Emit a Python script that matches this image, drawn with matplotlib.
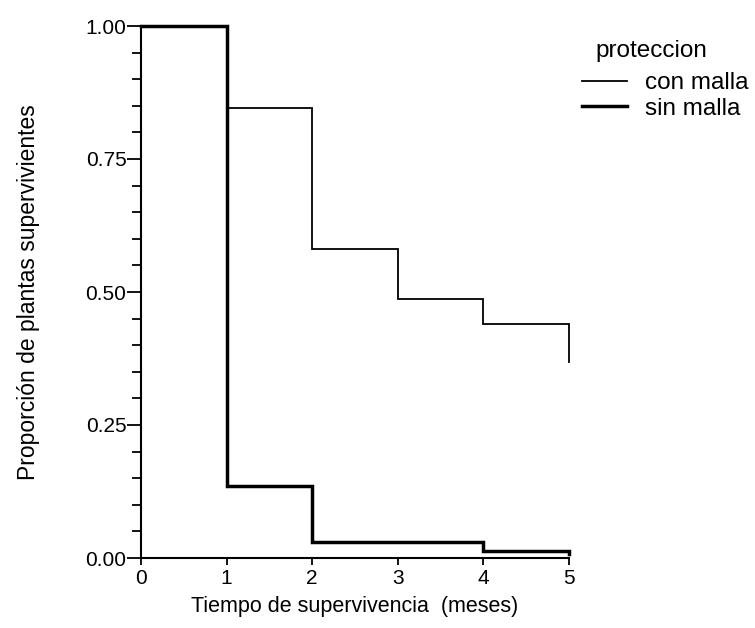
import matplotlib
matplotlib.use("Agg")
import matplotlib.pyplot as plt
from matplotlib.ticker import MultipleLocator, FormatStrFormatter

plt.rcParams['font.family'] = ['Liberation Sans', 'DejaVu Sans']

# Kaplan-Meier step data
tiempo_con = [0, 1, 2, 3, 4, 5]
surv_con = [1.00, 0.846, 0.581, 0.487, 0.440, 0.368]
tiempo_sin = [0, 1, 2, 4, 5]
surv_sin = [1.00, 0.136, 0.031, 0.013, 0.008]

xticks = [0, 1, 2, 3, 4, 5]
yticks = [0.00, 0.25, 0.50, 0.75, 1.00]

W, H = 755, 628
fig = plt.figure(figsize=(W/100, H/100), dpi=100)
ax = fig.add_axes([141/W, 1-558/H, (569-141)/W, (558-26)/H])

def km_xy(t, s):
    xs, ys = [t[0]], [s[0]]
    for i in range(1, len(t)):
        xs += [t[i], t[i]]
        ys += [s[i-1], s[i]]
    return xs, ys

xs, ys = km_xy(tiempo_con, surv_con)
ax.plot(xs, ys, color='black', lw=1.3, clip_on=False, label='con malla',
        solid_joinstyle='miter')
xs, ys = km_xy(tiempo_sin, surv_sin)
ax.plot(xs, ys, color='black', lw=2.5, clip_on=False, label='sin malla',
        solid_joinstyle='miter')

ax.set_xlim(0, 5)
ax.set_ylim(0, 1)
ax.set_xticks(xticks)
ax.set_yticks(yticks)
ax.yaxis.set_major_formatter(FormatStrFormatter('%.2f'))
ax.yaxis.set_minor_locator(MultipleLocator(0.05))

for s in ['top', 'right']:
    ax.spines[s].set_visible(False)
for s in ['left', 'bottom']:
    ax.spines[s].set_linewidth(1.5)

ax.tick_params(axis='y', which='major', direction='out', length=10, width=1.3,
               labelsize=15, pad=0.5)
ax.tick_params(axis='y', which='minor', direction='out', length=6.5, width=1.3)
ax.tick_params(axis='x', which='major', direction='out', length=5, width=1.3,
               labelsize=15, pad=3)

ax.set_xlabel('Tiempo de supervivencia  (meses)', fontsize=15.5, labelpad=6)
ax.set_ylabel('Proporción de plantas supervivientes', fontsize=16.5, labelpad=33)

fig.text(595/W, 1-57/H, 'proteccion', fontsize=17.5, ha='left', va='baseline')
leg = fig.legend(loc='upper left', bbox_to_anchor=(582/W, 1-72/H),
                 frameon=False, fontsize=17.5, handlelength=1.85,
                 handletextpad=0.75, labelspacing=0.15, borderaxespad=0,
                 borderpad=0)

fig.savefig('out.png', dpi=100, facecolor='white')
